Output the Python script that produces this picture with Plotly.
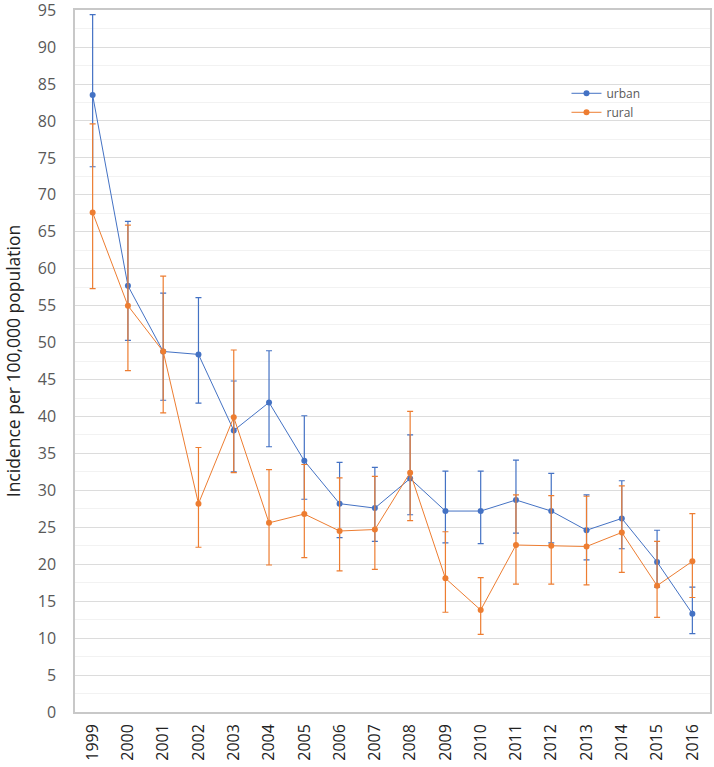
import plotly.graph_objects as go

years = [str(y) for y in range(1999, 2017)]

urban = [83.5, 57.7, 48.8, 48.4, 38.1, 41.9, 34.0, 28.2, 27.6, 31.6, 27.2, 27.2, 28.7, 27.2, 24.6, 26.2, 20.3, 13.3]
urban_upper = [94.4, 66.4, 56.7, 56.1, 44.8, 48.9, 40.1, 33.8, 33.1, 37.5, 32.6, 32.6, 34.1, 32.3, 29.4, 31.3, 24.6, 16.9]
urban_lower = [73.8, 50.3, 42.2, 41.8, 32.5, 35.9, 28.8, 23.6, 23.1, 26.7, 22.9, 22.8, 24.2, 22.9, 20.6, 22.1, 16.9, 10.6]

rural = [67.6, 55.0, 48.8, 28.2, 39.9, 25.6, 26.8, 24.5, 24.7, 32.4, 18.1, 13.8, 22.6, 22.5, 22.4, 24.3, 17.1, 20.4]
rural_upper = [79.6, 65.9, 59.0, 35.8, 49.0, 32.8, 33.5, 31.7, 31.9, 40.7, 24.4, 18.2, 29.4, 29.3, 29.2, 30.6, 23.1, 26.85]
rural_lower = [57.3, 46.2, 40.5, 22.3, 32.4, 19.9, 20.9, 19.1, 19.3, 25.9, 13.5, 10.5, 17.3, 17.3, 17.2, 18.9, 12.8, 15.5]

BLUE = "#4472C4"
ORANGE = "#ED7D31"


def trace(name, vals, up, lo, color):
    return go.Scatter(
        x=years, y=vals, name=name, mode="lines+markers",
        line=dict(color=color, width=1),
        marker=dict(color=color, size=6),
        error_y=dict(type="data", symmetric=False,
                     array=[u - v for u, v in zip(up, vals)],
                     arrayminus=[v - l for v, l in zip(vals, lo)],
                     color=color, thickness=1.2, width=3),
    )


fig = go.Figure([
    trace("urban", urban, urban_upper, urban_lower, BLUE),
    trace("rural", rural, rural_upper, rural_lower, ORANGE),
])

fig.update_layout(
    width=714, height=767,
    margin=dict(l=75, r=4, t=10, b=55),
    paper_bgcolor="white", plot_bgcolor="white",
    font=dict(family="Open Sans", color="#595959"),
    legend=dict(x=0.774, y=0.902, xanchor="left", yanchor="top",
                bgcolor="rgba(0,0,0,0)", font=dict(size=12, color="#595959"),
                tracegroupgap=0, itemwidth=30),
    showlegend=True,
)
fig.update_xaxes(
    type="category", tickangle=-90, tickfont=dict(size=16, color="#222222"),
    showgrid=False, showline=True, linecolor="#c8c8c8", linewidth=1.5, mirror=True,
    ticks="", range=[-0.5, 17.5], automargin=False, ticklabelstandoff=4,
)
fig.update_yaxes(
    range=[0, 95.02], dtick=5, tick0=0, tickfont=dict(size=16, color="#595959"),
    showgrid=True, gridcolor="#dcdcdc", gridwidth=1,
    minor=dict(dtick=2.5, showgrid=True, gridcolor="#f2f2f2", gridwidth=1),
    showline=True, linecolor="#c8c8c8", linewidth=1.5, mirror=True, zeroline=False,
    ticks="", automargin=False, ticklabelstandoff=14, ticklabeloverflow="allow",
    title=dict(text="Incidence per 100,000 population", font=dict(size=17.5, color="#222222"), standoff=13),
)

fig.write_html("out.html", config={"displayModeBar": False},
               post_script="document.body.style.margin='0';")
